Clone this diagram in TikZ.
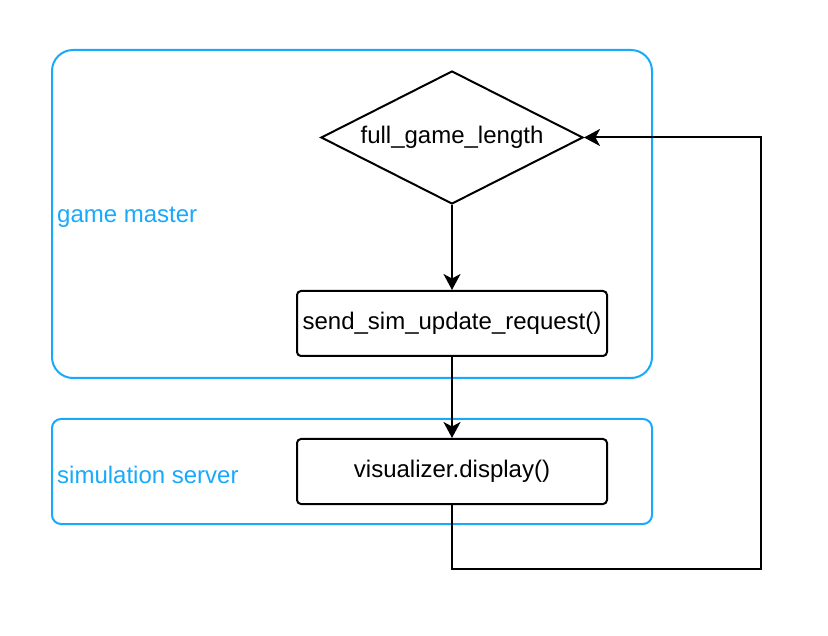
\documentclass[tikz,border=0pt]{standalone}
\usepackage{fontspec}
\setmainfont{Liberation Sans}
\usepackage{tikz}
\usetikzlibrary{arrows.meta, shapes.geometric}
\definecolor{laneblue}{RGB}{24,170,250}
\begin{document}
\begin{tikzpicture}[x=1pt, y=-1pt, >={Stealth[length=16pt, width=17pt, inset=4.5pt]}, font=\fontsize{24}{28}\selectfont,
        lane/.style={draw=laneblue, line width=2pt, minimum width=600pt},
        lanelabel/.style={text=laneblue, anchor=west, inner sep=6pt, yshift=-3pt},
        call/.style={rectangle, rounded corners=4pt, line width=2pt, minimum width=310pt, minimum height=65pt},
        decide/.style={diamond, aspect=1.97, line width=2pt, inner sep=0pt, minimum width=262pt, minimum height=133pt}]
        \useasboundingbox (0,0) rectangle (828,636);
        \node[lane, rounded corners=21pt, minimum height=328pt] at (352,214) (GM) {};
        \node[lanelabel] at (GM.west) (GMlabel) {game master};
        \node[lane, rounded corners=9pt, minimum height=105pt] at (352,471.5) (SS) {};
        \node[lanelabel] at (SS.west) (SSlabel) {simulation server};
        \node[draw, decide] at (452,137.5) (length) {full\_game\_length};
        \node[draw, call] at (452,323.5) (request) {send\_sim\_update\_request()};
        \node[draw, call] at (452,471.5) (display) {visualizer.display()};
        \coordinate (back) at (761,569);
        \draw[->, line width=2pt] (length) -- (request);
        \draw[->, line width=2pt] (request) -- (display);
        \draw[->, line width=2pt] (display) |- (back) |- (length.east);
  \end{tikzpicture}
\end{document}
